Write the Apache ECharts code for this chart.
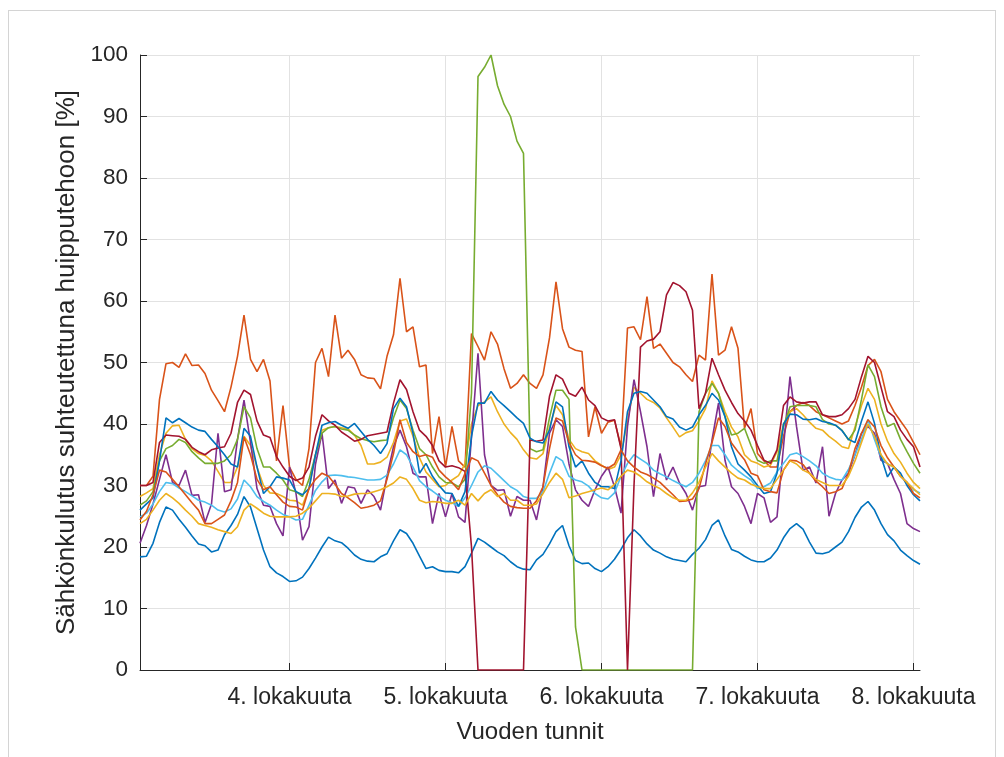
<!DOCTYPE html>
<html><head><meta charset="utf-8">
<script src="https://cdn.jsdelivr.net/npm/echarts@6/dist/echarts.min.js"></script>
<style>
html,body{margin:0;padding:0;background:#fff;}
#frame{position:absolute;left:8px;top:10px;width:986px;height:760px;border:1px solid #d4d4d4;border-bottom:none;}
#chart{position:absolute;left:0;top:0;width:1004px;height:757px;}
</style>
</head><body><div id="frame"></div><div id="chart"></div>
<script>
// Hours of the year window (3.10. 01:00 ... 8.10. 01:00)
const hours = Array.from({length: 121}, (_, i) => i + 1);
const tickHours = [24, 48, 72, 96, 120];
const tickLabels = ['4. lokakuuta', '5. lokakuuta', '6. lokakuuta', '7. lokakuuta', '8. lokakuuta'];
const yTitle = 'Sähkönkulutus suhteutettuna huipputehoon [%]';
const xTitle = 'Vuoden tunnit';

const blueLow = [18.4,18.5,20.6,24,26.5,26,24.5,23.2,21.8,20.5,20.2,19.2,19.5,22,23.5,25.3,28.2,26.5,23,19.5,16.8,15.8,15.2,14.4,
14.5,15.1,16.5,18.2,20,21.6,21,20.7,19.8,18.7,18,17.7,17.6,18.4,18.9,21,22.8,22.2,20.6,18.5,16.5,16.8,16.2,16,
16,15.8,16.8,19,21.4,20.8,20,19.2,18.6,17.6,16.8,16.4,16.3,17.9,18.8,20.5,22.5,23.5,20.2,17.8,17.3,17.4,16.5,16,
16.8,18,19.6,21.5,22.8,21.8,20.5,19.5,19,18.4,18,17.8,17.6,18.8,19.8,21.2,23.5,24.4,21.8,19.6,19.2,18.5,17.9,17.6,
17.6,18.2,19.5,21.5,23,23.8,22.9,20.8,19,18.9,19.2,20,20.8,22.5,24.8,26.5,27.4,26,23.8,22,21,19.5,18.6,17.8,17.2];
const orangeTop = [30,30,31.5,44,49.8,50,49.2,51.4,49.5,49.6,48.2,45.5,43.8,42,46,51,57.7,50.5,48.5,50.5,47,34,43,33,
31,30,36,50,52.3,47.7,57.7,50.7,52,50.5,48,47.5,47.4,45.7,51,54.5,63.7,55,55.8,49.3,49.6,35.2,41.2,33,
39.6,34,33,54.7,52.6,50.4,55,53,49,45.8,46.6,48,46.6,45.8,48,54,63.1,55.5,52.5,52,51.8,37.9,42.8,38.5,
40.3,40.6,36.3,55.6,55.8,53.7,60.7,52.3,53,51.5,50,49.3,48,46.9,51.2,50.4,64.4,51.2,52,55.8,52.3,39.3,42.5,35.2,
34,33,33,38,42,43,43.5,43,42,41.5,41,40.5,40,40.5,43,46,49.5,50.5,48.5,44,42,40.5,39,37,35];
const yellowHigh = [28.2,28.8,29.5,35,38.5,39.7,39.8,37.5,36,35.2,34.9,34,32.3,30.5,30.5,33,38,36.5,33,30,28.8,28.7,28.2,27.6,
27.5,26.8,29.5,35,39,39.4,39.6,39.4,39.2,38.2,36.5,33.5,33.5,33.8,34.6,37,40.5,40.8,38,34.5,32.2,31,29.8,30,
30.9,31.6,33.5,40,43,43.6,44.4,42,40,38.6,37.5,35.8,34.5,34.3,35.2,39.5,43,41.5,37.5,36,35.5,35.2,34,33.3,
32.6,33,35,40.5,46,45,44,43.5,42.6,41,39.5,37.9,38.6,38.9,40.5,42.5,47,45,42,39.5,37.9,35,34,33.6,
33,33.3,35.5,40,42,42.5,41.5,40.3,39.3,39,38,37.2,36.3,36,39.5,43,45.8,44,40,37.2,35.2,33.8,32,30.5,29.5];
const purple = [20.6,23.5,27,31,35,30.5,30,32.5,28.4,28.5,24,27,38.5,29,29.3,37.5,43.9,37,29.5,26.8,26.6,23.8,21.8,33,
28.7,21.1,23.3,33.5,38.5,29.5,30.9,27.1,29.8,29.6,27.1,29.3,28.2,26,31.5,36.3,39,36.3,32,31.4,31.4,23.8,28.7,24.9,
28.7,24.9,24,37.9,51.5,35,30,29.2,29.3,25,28.2,27.6,27.6,24.4,29.8,38.5,40.7,39.6,33.5,29.3,27.6,26.6,29.3,31.5,
33,29.8,25.5,39.6,47.2,42,36.3,28.2,35.2,30.9,33,30.4,28.7,26,29.8,30,37.4,43.4,34.1,29.8,28.7,26.6,23.8,28.7,
28,24,24.9,36.3,47.7,39.6,32.5,33,30.4,36.3,25,28.7,30.9,32,35,38.5,39.6,38.5,34.1,33.6,31,28.7,23.8,23,22.5];
const green = [26.8,27.5,29,34,36,36.5,37.5,37,35.5,34.5,33.6,33.6,33.6,34,35,37.5,42.8,41,36,33,33,32,30.9,29.3,
29,28.2,31,35,38.5,39.4,39.6,39.2,39,38.2,37.6,37.3,37.1,37.3,37.4,41,43.9,42.5,39,36,35,33,31.4,30.5,
30.4,29.8,31,45,96.5,98,100,95,92,90,86,84,36,35.5,35.8,41,45.5,45.5,44,7,0,0,0,0,
0,0,0,0,0,0,0,0,0,0,0,0,0,0,42,45,46.6,45,41.2,38.2,38.5,39.3,36.5,34.1,
33.6,34,34,39.6,42.8,43,43,43,42.8,40.7,40,39.8,39,37.4,39,44,49.6,47.7,42.8,39.6,40.1,37.5,35.5,33.6,32];
const lightBlue = [24.9,25.5,27,29,30.5,30.3,29.6,29,28.3,27.6,27.3,26.8,26,25.7,26.2,27.8,30.9,29.8,28.2,27.4,26.8,26,25.3,24.9,
24.4,24.5,26.8,29.2,30.6,31.6,31.7,31.6,31.4,31.3,31.1,30.9,30.9,31,31.7,33.5,35.8,35,33,30.8,29.8,29.1,28.3,27.6,
27.2,26.6,28,30,32.2,33.2,32.8,31.8,30.8,29.8,29.2,28.2,27.9,27.9,29,32,34.7,34,31.5,30.9,30.6,29.9,28.7,28,
27.8,28.8,31.5,33.6,35,34.3,33.6,32.5,31.9,31.4,30.8,30.3,29.8,30.5,32,34,36.5,36.5,35,33.3,32.4,31.6,30.9,29.5,
29.8,30.4,32.2,33.6,35,35.3,34.7,34,33.2,32,31.4,31,30.9,32.6,35,37.5,40.7,37.5,34.6,33.5,33,31.5,30.5,29.3,28.8];
const darkRed = [30,30,30.5,37,38.2,38.1,38,37.5,36.2,35.5,35,35.8,36.1,36.3,38.5,43.5,45.5,44.8,40.5,38.2,37.8,34.7,33,31.5,
30.8,31.2,33,38,41.5,40.5,39.8,38.7,38,37.2,37.5,38.1,38.3,38.5,38.7,43.4,47.2,45.6,42,39,38,36.5,34,33,
33.2,32.9,32.3,20,0,0,0,0,0,0,0,0,37.4,37.2,37.4,44.5,48,47.3,45,44.5,46,43.9,43,41,
40.5,40.7,36,0,30,52.5,53.5,53.8,55,61,63,62.5,61.5,58.5,42.5,45,50.7,48,45.5,43.5,41.7,40.5,39,36.5,
34.1,33.6,35.8,43,44.4,43.6,43.4,43.6,43.6,41.5,41.2,41.2,41.5,42.5,44,47.7,51,50,46,42,41.2,39,37.5,36.3,33];
const blueHigh = [26,27,28,34,41,40.2,40.9,40.2,39.5,39,38.8,37.5,36.3,35,33.5,33,39.3,38,33,28.7,29.8,31.4,31.2,30.9,
29,28.5,29.5,35,39.8,40.2,40.4,39.8,39.3,40.1,38.8,37.5,36.5,35.2,36.8,42.5,44.2,42.8,38.5,32,33.6,31.5,30,28.8,
28.7,26.6,29,38,43.4,43.4,45.3,43.9,43,42,41,40.1,37.7,37.1,36.9,39,43.6,42.8,36.3,33,34,32,30.5,29.8,
29.8,29.5,34,42,45,45.3,45,43.9,42.8,41.2,40.8,39.5,39,39.5,41.5,43,45,43.9,41.2,36.3,33.5,32.5,31.4,30,
28.7,29,32,40,41.6,41.5,40.8,40.7,40.9,40.4,40.2,39.8,38.9,37.5,37,40.5,43.6,40.1,34.7,31.4,33,32,30,28.5,27.5];
const orangeLow = [24.4,25.8,28.5,32.5,32.2,31,29.8,28.5,27.2,26,23.8,23.8,24.5,25.2,27.5,30.5,37.9,35,31,29.3,29.8,28.5,27.3,26.6,
26.5,26,29.5,31,32,31.5,30.2,28.7,28,27.2,26.3,26.5,26.8,27.5,31,35.2,40.7,37,35.5,34.7,35,34.6,32.5,31.4,
30.5,29.3,32,34.5,34,32,30,28.5,27.3,26.6,26.4,26.3,26.3,27.5,29.8,36,41,40.5,37,35,34.1,34,33.8,33.2,
32.8,33.5,35.8,34,33,32.2,31.8,31.2,30.5,29.5,28.5,27.4,27.5,27.8,29.5,33.5,37,41,39.6,36.9,35.5,34.2,32,31.6,
29.3,29,28.8,32.5,34.1,34,33.4,32,30.7,29.8,28.7,29,29.5,32,36,38.5,40.7,39.5,36.5,34.5,33,31.5,30.5,28.7,28];
const yellowLow = [23.8,24.5,26,27.6,28.7,28,27.1,26,25,23.8,23.5,23.2,22.8,22.5,22.2,23.3,26,27,26.3,25.5,25,24.9,24.9,24.9,
25,25.5,26.3,27.5,28.7,28.7,28.6,28.2,28.3,28.6,28.7,28.7,29,29.3,29.8,30.4,31.4,31,29.5,27.6,27.2,27.4,27.3,27.1,
27.1,27.6,26.8,28.7,27.5,28.7,29.3,28.2,28.7,27.6,27.6,26.8,26.8,27,28.7,30.5,32,31,28,28.3,28.7,29,29.3,29.6,
29.3,30.2,31.5,32.5,32.2,31.5,30.6,30,29.5,28.7,28,27.6,27.6,28.8,30.5,33,35.2,34,33,32,31.2,30.9,30.2,29.8,
29.5,29.5,31,32.5,34,33.5,32.5,32,31,30.5,30,30,30,31.5,34,37,40,38,35,33.5,33,31.5,30.5,29.5,28.5];

const seriesList = [
  {data: blueLow, color: '#0072BD'},
  {data: orangeTop, color: '#D95319'},
  {data: yellowHigh, color: '#EDB120'},
  {data: purple, color: '#7E2F8E'},
  {data: green, color: '#77AC30'},
  {data: lightBlue, color: '#4DBEEE'},
  {data: darkRed, color: '#A2142F'},
  {data: blueHigh, color: '#0072BD'},
  {data: orangeLow, color: '#D95319'},
  {data: yellowLow, color: '#EDB120'}
];

const isTick = (idx, val) => tickHours.indexOf(Number(val)) >= 0;
const FONT = '"Liberation Sans", Arial, Helvetica, sans-serif';

const chart = echarts.init(document.getElementById('chart'), null, {renderer: 'canvas'});
chart.setOption({
  animation: false,
  backgroundColor: 'transparent',
  grid: {left: 140, right: 84, top: 55, bottom: 87},
  xAxis: {
    type: 'category', data: hours, boundaryGap: false,
    name: xTitle, nameLocation: 'middle', nameGap: 50,
    nameTextStyle: {fontFamily: FONT, fontSize: 24, color: '#262626'},
    axisLine: {lineStyle: {color: '#262626', width: 1}},
    axisTick: {inside: true, length: 7, interval: isTick, lineStyle: {color: '#262626'}},
    axisLabel: {interval: isTick, formatter: v => tickLabels[tickHours.indexOf(Number(v))], fontFamily: FONT, fontSize: 23, color: '#262626', margin: 16},
    splitLine: {show: true, interval: isTick, lineStyle: {color: '#e2e2e2', width: 1}}
  },
  yAxis: {
    type: 'value', min: 0, max: 100, interval: 10,
    name: yTitle, nameLocation: 'middle', nameGap: 58, nameRotate: 90,
    nameTextStyle: {fontFamily: FONT, fontSize: 26, color: '#262626'},
    axisLine: {show: true, lineStyle: {color: '#262626', width: 1}},
    axisTick: {show: true, inside: true, length: 7, lineStyle: {color: '#262626'}},
    axisLabel: {fontFamily: FONT, fontSize: 22.5, color: '#262626', margin: 12},
    splitLine: {show: true, lineStyle: {color: '#e2e2e2', width: 1}}
  },
  series: seriesList.map(s => ({
    type: 'line', data: s.data, symbol: 'none', silent: true,
    lineStyle: {color: s.color, width: 1.6}, itemStyle: {color: s.color}
  }))
});
</script>
</body></html>
